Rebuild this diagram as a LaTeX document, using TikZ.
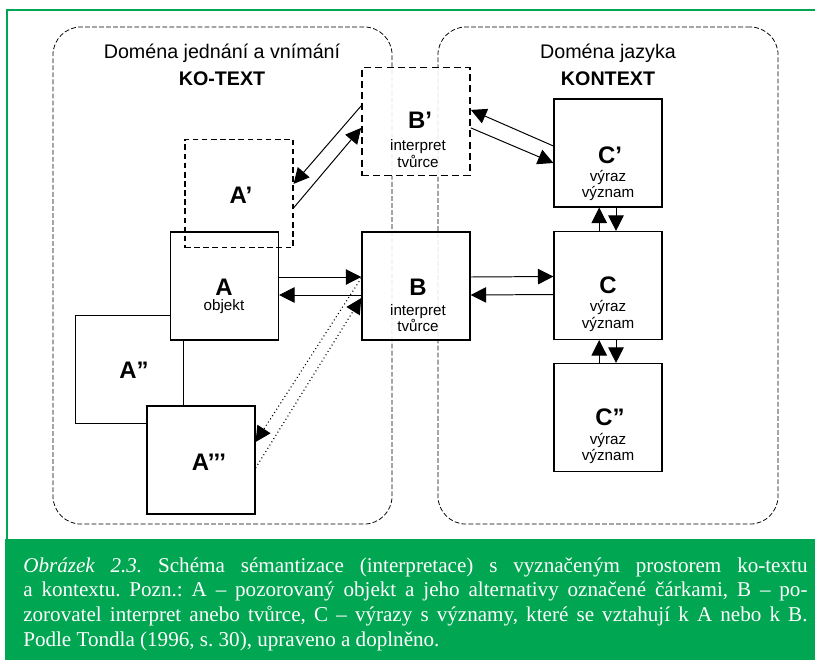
\documentclass[tikz,border=0pt]{standalone}
\usepackage{fontspec}
\setmainfont{Liberation Serif}
\newfontfamily\diafont{Liberation Sans}
\usetikzlibrary{positioning,arrows.meta}
\definecolor{capgreen}{RGB}{0,166,81}

\begin{document}
\begin{tikzpicture}[x=0.025cm, y=-0.025cm, font=\diafont,
    domainbox/.style={rectangle, draw=black, line width=0.55pt, dash pattern=on 3.4pt off 1.6pt, rounded corners=0.7cm, inner sep=0pt},
    box/.style={rectangle, draw=black, line width=0.8pt, fill=white, minimum width=2.7cm, minimum height=2.7cm, inner sep=0pt},
    altbox/.style={box, fill=none, dash pattern=on 4pt off 2.5pt},
    title/.style={font=\diafont\fontsize{14}{16}\selectfont},
    letter/.style={font=\diafont\bfseries\fontsize{17}{20}\selectfont, inner sep=0pt},
    sub/.style={font=\diafont\fontsize{10.8}{11.6}\selectfont, align=center, inner sep=0pt},
    arr/.style={-{Triangle[length=11pt,width=11pt]}, line width=0.7pt},
    dotarr/.style={arr, dotted, line width=0.8pt}]
  %  \draw[help lines, step=1cm] (0,0) grid (815,660);

      \useasboundingbox (0,0) rectangle (815,660);
      \fill[white] (0,0) rectangle (815,660);
      \draw[capgreen, line width=1.5pt] (7,539) -- (7,10) -- (815,10);

      \node [domainbox, minimum width=8.475cm, minimum height=12.425cm] (kotext) at (222.5,275.5) {};
      \node [domainbox, minimum width=8.5cm, minimum height=12.425cm] (kontext) at (608,275.5) {};
      \node [title] (kotextname) at (222,53) {Doména jednání a vnímání};
      \node [title, font=\diafont\bfseries\fontsize{14}{16}\selectfont] (kotexthead) at (222,79) {KO-TEXT};
      \node [title] (kontextname) at (608,53) {Doména jazyka};
      \node [title, font=\diafont\bfseries\fontsize{14}{16}\selectfont] (kontexthead) at (608,79) {KONTEXT};

      \node [box] (App) at (129.5,369.5) {};
      \node [box] (A) at (224.5,286) {};
      \node [box] (Appp) at (201,460) {};
      \node [altbox] (Ap) at (239,193.5) {};
      \node [box, fill opacity=0.88, line width=1.2pt, dash pattern=on 5pt off 3pt] (Bp) at (416,121.5) {};
      \node [box, fill opacity=0.88, line width=1pt] (B) at (416,286) {};
      \node [box] (Cp) at (608,153) {};
      \node [box] (C) at (608,285.5) {};
      \node [box] (Cpp) at (608,417.5) {};

      \node [letter] (Aplab) at (241,195) {A’};
      \node [letter] (Alab) at (224,287) {A};
      \node [sub] (Asub) at (224,307) {objekt};
      \node [letter] (Applab) at (134,370) {A”};
      \node [letter] (Appplab) at (209,462) {A’’’};
      \node [letter] (Bplab) at (420,120) {B’};
      \node [sub] (Bpsub) at (418,153.5) {interpret\\tvůrce};
      \node [letter] (Blab) at (418,287) {B};
      \node [sub] (Bsub) at (418,318) {interpret\\tvůrce};
      \node [letter] (Cplab) at (610,155) {C’};
      \node [sub] (Cpsub) at (608,185.5) {výraz\\význam};
      \node [letter] (Clab) at (608,285) {C};
      \node [sub] (Csub) at (608,316) {výraz\\význam};
      \node [letter] (Cpplab) at (610,417) {C”};
      \node [sub] (Cppsub) at (608,448.5) {výraz\\význam};

      \draw[arr] ([yshift=0.39cm]Bp.west) -- ([yshift=0.24cm]Ap.east);
      \draw[arr] ([yshift=-0.36cm]Ap.east) -- ([yshift=-0.16cm]Bp.west);
      \draw[arr] ([yshift=0.175cm]Cp.west) -- ([yshift=0.29cm]Bp.east);
      \draw[arr] ([yshift=-0.16cm]Bp.east) -- ([yshift=-0.25cm]Cp.west);

      \draw[arr] ([yshift=0.225cm]A.east) -- ([yshift=0.225cm]B.west);
      \draw[arr] ([yshift=-0.225cm]B.west) -- ([yshift=-0.225cm]A.east);
      \draw[arr] ([yshift=0.225cm]B.east) -- ([yshift=0.225cm]C.west);
      \draw[arr] ([yshift=-0.225cm]C.west) -- ([yshift=-0.225cm]B.east);

      \draw[arr] ([xshift=-0.22cm]C.north) -- ([xshift=-0.22cm]Cp.south);
      \draw[arr] ([xshift=0.2cm]Cp.south) -- ([xshift=0.2cm]C.north);
      \draw[arr] ([xshift=-0.22cm]Cpp.north) -- ([xshift=-0.22cm]C.south);
      \draw[arr] ([xshift=0.2cm]C.south) -- ([xshift=0.2cm]Cpp.north);

      \draw[dotarr] ([yshift=0.2cm]B.west) -- ([yshift=0.45cm]Appp.east);
      \draw[dotarr] ([yshift=-0.2cm]Appp.east) -- ([yshift=-0.3cm]B.west);

      \fill[capgreen] (5,539) rectangle (815,660);
      \node [anchor=base west, inner sep=0pt, text width=19.6cm, align=justify, text=white,
             font=\rmfamily\frenchspacing\fontsize{15}{17.7}\selectfont] (caption) at (23,572)
        {\textit{Obrázek 2.3.} Schéma sémantizace (interpretace) s vyznačeným prostorem ko-textu\linebreak
         a kontextu. Pozn.: A – pozorovaný objekt a jeho alternativy označené čárkami, B – po-\linebreak
         zorovatel interpret anebo tvůrce, C – výrazy s významy, které se vztahují k A nebo k B.\linebreak
         Podle Tondla (1996, s. 30), upraveno a doplněno.};

\end{tikzpicture}
\end{document}
